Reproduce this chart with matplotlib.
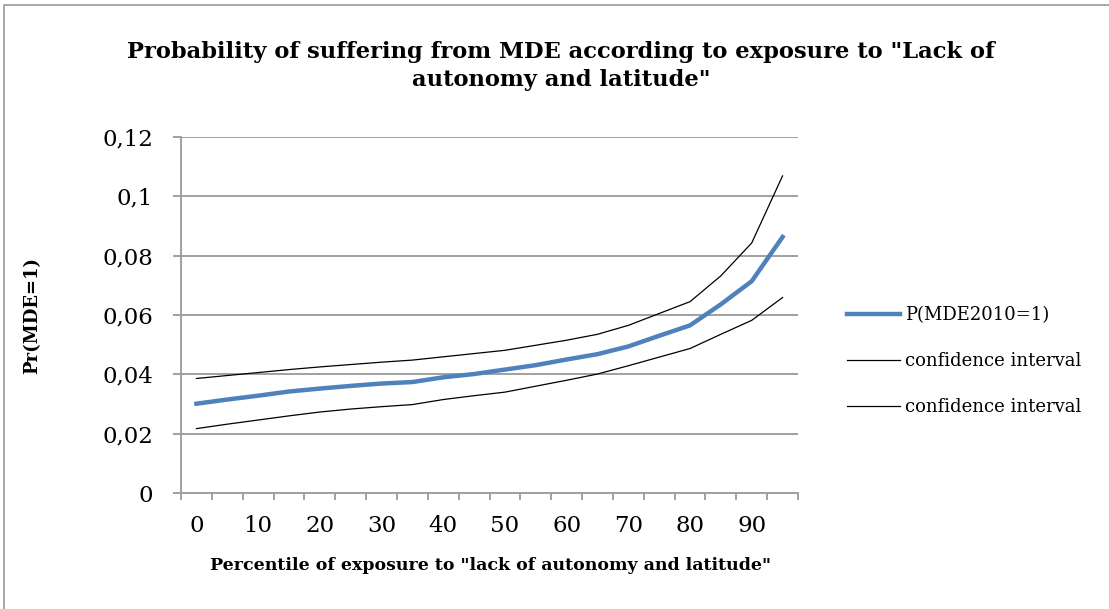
import numpy as np
import matplotlib
matplotlib.use("Agg")
import matplotlib.pyplot as plt
from matplotlib.patches import Rectangle

# percentile categories 0, 5, ..., 95
percentiles = [0, 5, 10, 15, 20, 25, 30, 35, 40, 45,
               50, 55, 60, 65, 70, 75, 80, 85, 90, 95]
p_mde = [0.0301, 0.0315, 0.0328, 0.0342, 0.0352, 0.0361, 0.0369, 0.0374, 0.0390, 0.0401,
         0.0416, 0.0431, 0.0450, 0.0468, 0.0494, 0.0530, 0.0565, 0.0636, 0.0714, 0.0863]
ci_upper = [0.0386, 0.0396, 0.0406, 0.0416, 0.0425, 0.0433, 0.0441, 0.0448, 0.0459, 0.0470,
            0.0481, 0.0498, 0.0515, 0.0535, 0.0565, 0.0605, 0.0645, 0.0732, 0.0843, 0.1069]
ci_lower = [0.0217, 0.0232, 0.0246, 0.0260, 0.0273, 0.0283, 0.0291, 0.0298, 0.0315, 0.0328,
            0.0340, 0.0360, 0.0380, 0.0401, 0.0429, 0.0458, 0.0487, 0.0535, 0.0582, 0.0659]
y_ticks = [0, 0.02, 0.04, 0.06, 0.08, 0.1, 0.12]
y_tick_labels = ['0', '0,02', '0,04', '0,06', '0,08', '0,1', '0,12']

serif = 'DejaVu Serif'
grid_gray = '#A0A0A0'

fig = plt.figure(figsize=(11.09, 6.09), dpi=100)
W, H = 1109, 609
fig.patches.append(Rectangle((4 / W, -0.1), 1.2, 1 - 5 / H + 0.1, transform=fig.transFigure,
                             fill=False, edgecolor='#9A9A9A', linewidth=1.2))

ax = fig.add_axes([181 / W, 1 - 493 / H, (798 - 181) / W, (493 - 137) / H])
x = np.arange(len(percentiles))

ax.plot(x, p_mde, color='#4F81BD', linewidth=3.2, label='P(MDE2010=1)', zorder=3)
ax.plot(x, ci_upper, color='black', linewidth=0.9, label='confidence interval', zorder=2)
ax.plot(x, ci_lower, color='black', linewidth=0.9, label='confidence interval', zorder=2)

ax.set_xlim(-0.5, len(percentiles) - 0.5)
ax.set_ylim(0, 0.12)
ax.set_yticks(y_ticks)
ax.set_yticklabels(y_tick_labels, fontfamily=serif, fontsize=16.5)
ax.yaxis.grid(True, color=grid_gray, linewidth=1.4)
ax.set_axisbelow(True)

ax.set_xticks(x[::2])
ax.set_xticklabels([str(p) for p in percentiles[::2]], fontfamily=serif, fontsize=16.5)
ax.set_xticks(np.arange(-0.5, len(percentiles)), minor=True)
ax.tick_params(axis='x', which='major', length=0, pad=16)
ax.tick_params(axis='x', which='minor', length=5, width=1.4, color=grid_gray)
ax.tick_params(axis='y', length=6, width=1.4, color=grid_gray, pad=14)

for side in ['top', 'right']:
    ax.spines[side].set_visible(False)
for side in ['left', 'bottom']:
    ax.spines[side].set_color(grid_gray)
    ax.spines[side].set_linewidth(1.4)

fig.text(561 / W, 1 - 66 / H,
         'Probability of suffering from MDE according to exposure to "Lack of\nautonomy and latitude"',
         ha='center', va='center', fontfamily=serif, fontweight='bold', fontsize=16.3,
         linespacing=1.35)
fig.text(490 / W, 1 - 566 / H, 'Percentile of exposure to "lack of autonomy and latitude"',
         ha='center', va='center', fontfamily=serif, fontweight='bold', fontsize=12.5)
fig.text(32 / W, 1 - 315 / H, 'Pr(MDE=1)', rotation=90,
         ha='center', va='center', fontfamily=serif, fontweight='bold', fontsize=13)

ax.legend(loc='center left', bbox_to_anchor=(831 / W, 1 - 361 / H), bbox_transform=fig.transFigure,
          frameon=False, prop={'family': serif, 'size': 13}, handlelength=2.9,
          labelspacing=1.55, handletextpad=0.3)

fig.savefig('out.png', dpi=100)
plt.close(fig)
